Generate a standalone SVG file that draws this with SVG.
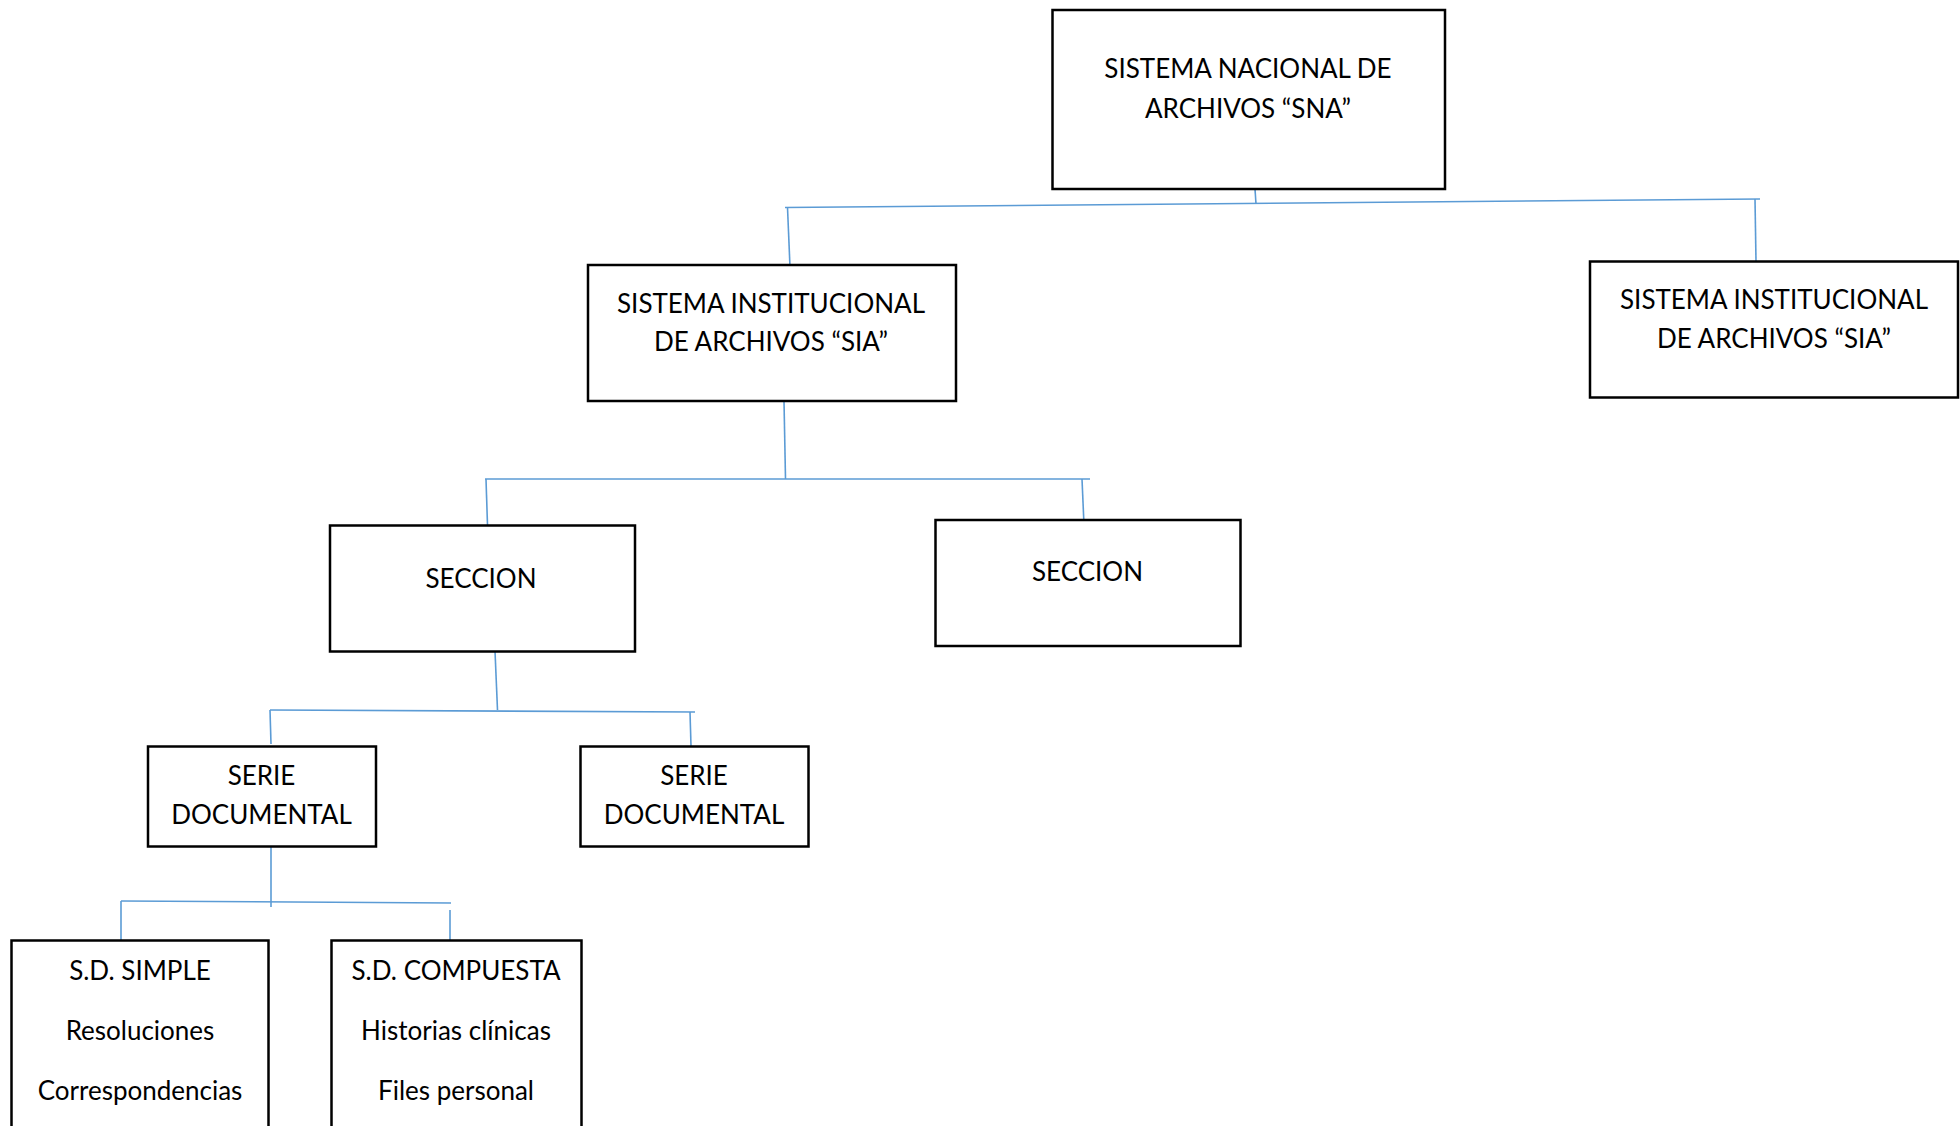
<svg xmlns="http://www.w3.org/2000/svg" width="1960" height="1126" viewBox="0 0 1960 1126">
<style>
.box{fill:#fff;stroke:#000;stroke-width:2.5}
.t{font-family:Lato,"Open Sans","Liberation Sans",sans-serif;font-size:26px;fill:#000;text-anchor:middle;dominant-baseline:central}
.c{stroke:#5B9BD5;stroke-width:1.6;fill:none}
</style>
<rect width="1960" height="1126" fill="#fff"/>
<g id="connectors">
<line class="c" x1="785" y1="207.5" x2="1760" y2="199"/>
<line class="c" x1="1255" y1="189" x2="1256" y2="204"/>
<line class="c" x1="787.5" y1="207.5" x2="790" y2="267"/>
<line class="c" x1="1755" y1="199" x2="1756" y2="261"/>
<line class="c" x1="784" y1="401" x2="785.5" y2="479"/>
<line class="c" x1="485" y1="479" x2="1090" y2="479"/>
<line class="c" x1="486" y1="479" x2="487.5" y2="525"/>
<line class="c" x1="1082" y1="479" x2="1084" y2="525"/>
<line class="c" x1="495" y1="651" x2="497.5" y2="710"/>
<line class="c" x1="270" y1="710" x2="695" y2="712"/>
<line class="c" x1="270" y1="710" x2="271" y2="744"/>
<line class="c" x1="690" y1="712" x2="691" y2="746"/>
<line class="c" x1="271" y1="846" x2="271" y2="907"/>
<line class="c" x1="121" y1="901" x2="451" y2="903"/>
<line class="c" x1="121" y1="901" x2="121" y2="940"/>
<line class="c" x1="450" y1="910" x2="450" y2="940"/>
</g>
<g id="sna">
<rect class="box" x="1052.5" y="10" width="392.5" height="179"/>
<text class="t" x="1248" y="67.5">SISTEMA NACIONAL DE</text>
<text class="t" x="1248" y="107.5">ARCHIVOS “SNA”</text>
</g>
<g id="sia1">
<rect class="box" x="588" y="265" width="368" height="136"/>
<text class="t" x="771" y="302.5">SISTEMA INSTITUCIONAL</text>
<text class="t" x="771" y="341">DE ARCHIVOS “SIA”</text>
</g>
<g id="sia2">
<rect class="box" x="1590" y="261.5" width="368" height="136"/>
<text class="t" x="1774" y="299">SISTEMA INSTITUCIONAL</text>
<text class="t" x="1774" y="337.5">DE ARCHIVOS “SIA”</text>
</g>
<g id="seccion1">
<rect class="box" x="330" y="525.5" width="305" height="126"/>
<text class="t" x="481" y="577.5">SECCION</text>
</g>
<g id="seccion2">
<rect class="box" x="935.5" y="520" width="305" height="126"/>
<text class="t" x="1087.5" y="571">SECCION</text>
</g>
<g id="serie1">
<rect class="box" x="148" y="746.5" width="228" height="100"/>
<text class="t" x="261.5" y="775">SERIE</text>
<text class="t" x="261.5" y="814">DOCUMENTAL</text>
</g>
<g id="serie2">
<rect class="box" x="580.5" y="746.5" width="228" height="100"/>
<text class="t" x="694" y="775">SERIE</text>
<text class="t" x="694" y="814">DOCUMENTAL</text>
</g>
<g id="sd-simple">
<rect class="box" x="11.5" y="940.5" width="257" height="200"/>
<text class="t" x="140" y="970">S.D. SIMPLE</text>
<text class="t" x="140" y="1030">Resoluciones</text>
<text class="t" x="140" y="1090">Correspondencias</text>
</g>
<g id="sd-compuesta">
<rect class="box" x="331.5" y="940.5" width="250" height="200"/>
<text class="t" x="456" y="970">S.D. COMPUESTA</text>
<text class="t" x="456" y="1030">Historias clínicas</text>
<text class="t" x="456" y="1090">Files personal</text>
</g>
</svg>
